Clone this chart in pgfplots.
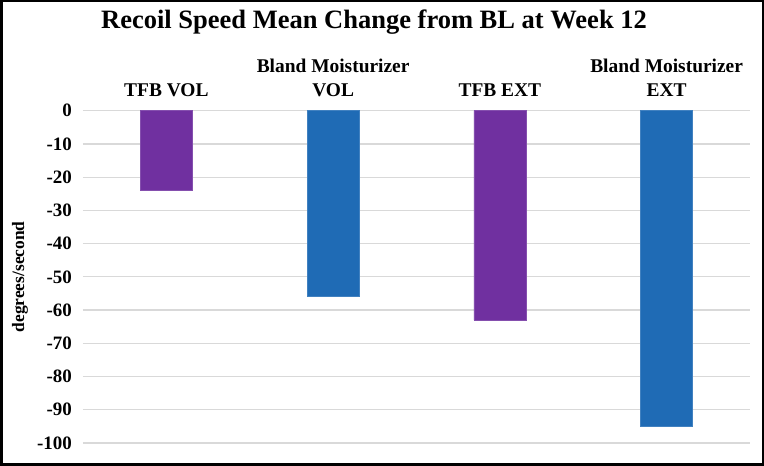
\documentclass[border=0pt]{standalone}
\usepackage{pgfplots}
\pgfplotsset{compat=1.18}
\usepackage{fontspec}
\setmainfont{Liberation Serif}[BoldFont={Liberation Serif Bold}]
\definecolor{barpurple}{RGB}{112,48,160}
\definecolor{barblue}{RGB}{31,107,181}
\definecolor{gridgray}{RGB}{217,217,217}
\begin{document}
\begin{tikzpicture}
\useasboundingbox (0,0) rectangle (764bp,466bp);
\fill[white] (0,0) rectangle (764bp,466bp);
\draw[line width=2.5bp] (1.25bp,1.25bp) rectangle (762.75bp,464.75bp);
\node[font=\fontsize{26.6}{30}\selectfont\bfseries, anchor=base, inner sep=0pt] at (374bp,437bp) {Recoil Speed Mean Change from BL at Week 12};
\begin{axis}[
  at={(83bp,23bp)}, anchor=south west,
  scale only axis, width=667bp, height=332.3bp,
  xmin=-0.5, xmax=3.5, ymin=-100, ymax=0,
  ytick={-100,-90,...,0},
  xtick={0,1,2,3},
  xticklabels={TFB VOL,{Bland Moisturizer\\VOL},TFB EXT,{Bland Moisturizer\\EXT}},
  xticklabel pos=upper,
  axis line style={draw=none},
  tick style={draw=none},
  major tick length=0pt,
  ymajorgrids,
  grid style={gridgray, line width=1.2bp},
  /pgf/number format/assume math mode=true,
  yticklabel style={font=\fontsize{19}{19}\selectfont\bfseries, inner sep=0pt, anchor=east, xshift=-11bp},
  xticklabel style={font=\fontsize{19.5}{24}\selectfont\bfseries, align=center, anchor=south, inner sep=0pt, text depth=0pt, yshift=13.7bp},
  ylabel={degrees/second},
  ylabel style={font=\fontsize{17.5}{20}\selectfont\bfseries, at={(axis description cs:-0.0945,0.5)}, anchor=center},
]
\addplot[ybar, bar width=52bp, bar shift=0pt, fill=barpurple, draw=barpurple!85!white, line width=0.6bp] coordinates {(0,-24) (2,-63)};
\addplot[ybar, bar width=52bp, bar shift=0pt, fill=barblue, draw=barblue!85!white, line width=0.6bp] coordinates {(1,-56) (3,-95)};
\end{axis}
\end{tikzpicture}
\end{document}
